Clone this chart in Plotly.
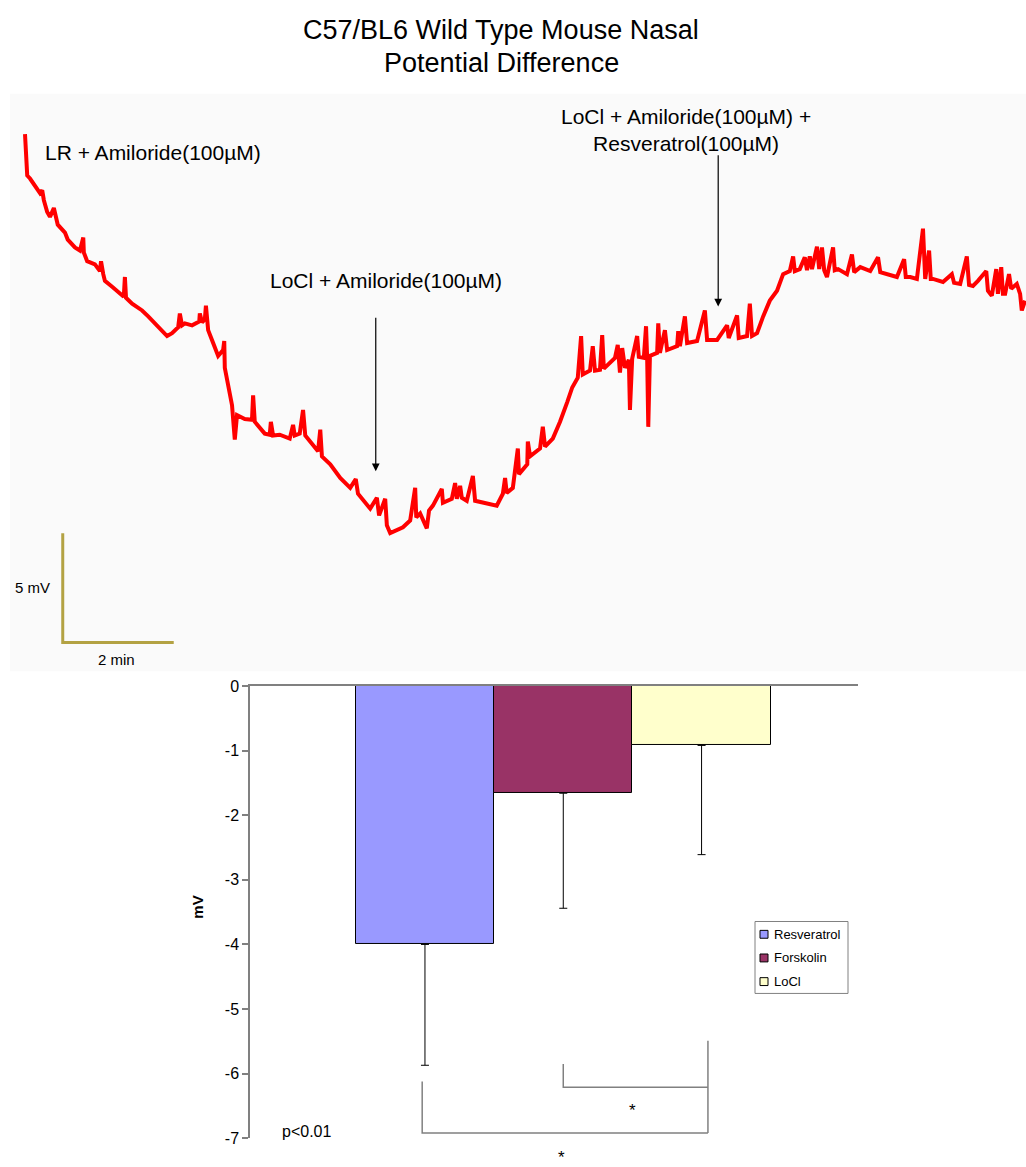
import plotly.graph_objects as go

# ---------------- data ----------------
title_lines = ["C57/BL6 Wild Type Mouse Nasal", "Potential Difference"]

# nasal potential difference trace (time in minutes, potential in mV, arbitrary offset)
time_min = [
    0.00, 0.04, 0.09, 0.18, 0.27, 0.31, 0.34, 0.40, 0.45, 0.52, 0.56, 0.59, 0.72, 0.77, 0.90, 0.99, 1.05, 1.06, 1.12, 1.26,
    1.35, 1.37, 1.41, 1.44, 1.57, 1.68, 1.78, 1.80, 1.82, 1.93, 2.11, 2.22, 2.40, 2.56, 2.65, 2.76, 2.79, 2.83, 2.88, 3.01,
    3.14, 3.15, 3.19, 3.24, 3.26, 3.30, 3.39, 3.48, 3.57, 3.59, 3.60, 3.66, 3.73, 3.78, 3.82, 3.96, 4.09, 4.11, 4.14, 4.32,
    4.41, 4.43, 4.47, 4.59, 4.77, 4.83, 4.86, 4.95, 5.01, 5.05, 5.14, 5.28, 5.32, 5.35, 5.50, 5.68, 5.86, 5.96, 6.00, 6.13,
    6.22, 6.34, 6.38, 6.49, 6.52, 6.58, 6.70, 6.81, 6.94, 7.03, 7.05, 7.12, 7.24, 7.28, 7.35, 7.51, 7.53, 7.69, 7.75, 7.78,
    7.84, 7.87, 7.96, 8.07, 8.11, 8.32, 8.50, 8.61, 8.65, 8.68, 8.79, 8.88, 8.90, 9.05, 9.06, 9.10,
    9.28, 9.33, 9.37, 9.51, 9.64, 9.77, 9.86, 9.96, 10.02, 10.05, 10.18, 10.23, 10.27, 10.36, 10.40, 10.43, 10.54, 10.63,
    10.68, 10.72, 10.76, 10.81, 10.88, 10.90, 10.94, 11.03, 11.06, 11.15, 11.19, 11.21, 11.23, 11.26, 11.39, 11.41, 11.44,
    11.53, 11.57, 11.75, 11.77, 11.80, 11.89, 11.93, 12.11, 12.25, 12.29, 12.47, 12.65, 12.68, 12.83, 12.86, 13.01, 13.06,
    13.10, 13.19, 13.30, 13.42, 13.55,
    13.66, 13.78, 13.84, 13.87, 13.96, 14.05, 14.09, 14.14, 14.18, 14.27, 14.31, 14.36, 14.40, 14.45, 14.56, 14.59, 14.65,
    14.81, 14.90, 14.94, 15.05, 15.23, 15.37, 15.41, 15.53, 15.71, 15.84, 15.87, 15.95, 16.07, 16.18, 16.22, 16.29, 16.32,
    16.36, 16.54, 16.70, 16.74, 16.85, 16.97, 17.01, 17.08, 17.17, 17.32, 17.35, 17.42, 17.50, 17.53, 17.59, 17.62, 17.66,
    17.73, 17.77, 17.87, 17.93, 17.96, 18.02,
]
pd_mv = [
    24.55, 22.66, 22.52, 22.21, 21.85, 21.98, 21.53, 20.99, 20.77, 21.17, 20.72, 20.41, 20.05, 19.73, 19.37, 19.23, 19.82, 19.14, 18.74, 18.60,
    18.29, 18.74, 18.15, 17.84, 17.57, 17.34, 17.12, 18.02, 17.07, 16.80, 16.49, 16.22, 15.77, 15.32, 15.45, 15.72, 16.35, 15.81, 15.90, 15.81,
    15.99, 16.35, 15.95, 16.08, 16.71, 15.59, 15.00, 14.41, 14.68, 15.09, 13.87, 13.06, 12.16, 10.59, 11.71, 11.53, 11.49, 12.61, 11.40, 10.86,
    10.81, 11.40, 10.77, 10.81, 10.63, 11.26, 10.77, 10.86, 11.94, 10.77, 10.50, 10.05, 11.04, 9.82, 9.46, 8.83, 8.38, 8.78, 8.11, 7.70,
    7.43, 7.93, 7.12, 7.88, 6.67, 6.31, 6.44, 6.58, 6.89, 8.38, 7.03, 7.21, 6.53, 7.34, 7.57, 8.33, 7.70, 7.88, 8.60, 7.88,
    8.47, 7.93, 7.79, 8.92, 7.79, 7.66, 7.57, 8.11, 8.83, 8.15, 8.38, 10.18, 9.01, 9.46, 10.50, 9.82,
    10.18, 11.17, 10.27, 10.63, 11.40, 12.30, 12.97, 13.42, 15.32, 13.56, 13.74, 14.86, 13.74, 13.78, 15.36, 13.83, 14.10, 14.32,
    14.91, 13.65, 14.77, 13.87, 14.23, 11.94, 14.28, 15.32, 14.37, 14.32, 15.77, 14.32, 11.17, 14.41, 14.55, 15.90, 14.55,
    15.59, 14.68, 14.86, 15.54, 14.86, 16.22, 15.00, 15.09, 16.49, 15.14, 15.14, 15.81, 15.23, 16.26, 15.23, 15.32, 16.80,
    15.32, 15.45, 16.22, 16.94, 17.39,
    18.15, 18.29, 18.96, 18.29, 18.38, 18.92, 18.33, 18.96, 18.38, 19.41, 18.38, 19.37, 18.33, 18.02, 19.37, 18.33, 18.38,
    18.15, 19.05, 18.24, 18.47, 18.29, 18.92, 18.24, 18.15, 18.02, 18.83, 18.02, 18.02, 17.93, 20.23, 17.93, 19.23, 17.93,
    17.93, 17.79, 18.15, 17.75, 17.70, 18.96, 17.66, 17.61, 17.84, 18.29, 17.39, 17.16, 18.38, 17.25, 18.47, 17.25, 17.25,
    18.15, 17.48, 17.70, 17.25, 16.49, 16.94,
]
assert len(time_min) == len(pd_mv)

# perfusion events: label, time of arrow (min)
event_labels = ["LR + Amiloride(100µM)", "LoCl + Amiloride(100µM)",
                "LoCl + Amiloride(100µM) +<br>Resveratrol(100µM)"]
event_times = [None, 6.32, 12.49]

# scale bar
scale_min = 2
scale_mv = 5
scale_labels = ["5 mV", "2 min"]

# summary bar chart
series = ["Resveratrol", "Forskolin", "LoCl"]
means = [-4.00, -1.66, -0.92]
sem = [1.87, 1.78, 1.69]
colors = ["#9999ff", "#993366", "#ffffcc"]
ytick_vals = [0, -1, -2, -3, -4, -5, -6, -7]
ytick_text = ["0", "-1", "-2", "-3", "-4", "-5", "-6", "-7"]
y_title = "mV"
p_text = "p<0.01"

# ---------------- layout helpers ----------------
W, H = 1026, 1167
FONT = "Liberation Sans, Arial, sans-serif"


def px(x):
    return x / W


def py(y):
    return 1 - y / H


PX_PER_MIN = 55.5
PX_PER_MV = 22.2

fig = go.Figure()

# trace
fig.add_trace(go.Scatter(
    x=time_min, y=pd_mv, mode="lines",
    line=dict(color="#ff0000", width=4),
    xaxis="x", yaxis="y", showlegend=False, hoverinfo="skip"))

# scale bar (anchored at a chosen spot)
sb_t0, sb_v0 = 0.68, 1.31
fig.add_trace(go.Scatter(
    x=[sb_t0, sb_t0, sb_t0 + scale_min],
    y=[sb_v0 + scale_mv, sb_v0, sb_v0],
    mode="lines", line=dict(color="#b3a243", width=3),
    xaxis="x", yaxis="y", showlegend=False, hoverinfo="skip"))

# bars
for i, (name, m, e, c) in enumerate(zip(series, means, sem, colors)):
    fig.add_trace(go.Bar(
        x=[i], y=[m], width=[1], name=name,
        marker=dict(color=c, line=dict(color="black", width=1)),
        error_y=dict(type="data", symmetric=False, array=[0], arrayminus=[e],
                     color="black", thickness=1, width=4),
        xaxis="x2", yaxis="y2", showlegend=False))

annotations = []
# title
for txt, yy in zip(title_lines, [22, 56]):
    annotations.append(dict(text=txt, x=px(501), y=py(yy), xref="paper", yref="paper",
                            showarrow=False, xanchor="center", yanchor="middle",
                            font=dict(size=27, color="black", family=FONT)))

# event labels
annotations.append(dict(text=event_labels[0], x=px(43), y=py(147), xref="paper", yref="paper",
                        showarrow=False, xanchor="left", yanchor="middle",
                        font=dict(size=21, color="black", family=FONT)))
annotations.append(dict(text=event_labels[1], x=px(386), y=py(277), xref="paper", yref="paper",
                        showarrow=False, xanchor="center", yanchor="middle",
                        font=dict(size=21, color="black", family=FONT)))
annotations.append(dict(text=event_labels[2], x=px(686), y=py(124), xref="paper", yref="paper",
                        showarrow=False, xanchor="center", yanchor="middle",
                        font=dict(size=21, color="black", family=FONT)))

# arrows
arrow_spec = [(event_times[1], 9.14, 16.22), (event_times[2], 16.67, 23.65)]
for t, tip, tail in arrow_spec:
    annotations.append(dict(text="", x=t, y=tip, ax=t, ay=tail, xref="x", yref="y",
                            axref="x", ayref="y", showarrow=True, arrowhead=2,
                            arrowsize=1.3, arrowwidth=1.2, arrowcolor="black"))

# scale bar labels
annotations.append(dict(text=scale_labels[0], x=px(52), y=py(588), xref="paper", yref="paper",
                        showarrow=False, xanchor="right", yanchor="middle",
                        font=dict(size=15, color="black", family=FONT)))
annotations.append(dict(text=scale_labels[1], x=px(116), y=py(661), xref="paper", yref="paper",
                        showarrow=False, xanchor="center", yanchor="middle",
                        font=dict(size=15, color="black", family=FONT)))

# bar chart texts
annotations.append(dict(text="<b>" + y_title + "</b>", x=px(198), y=py(913), xref="paper", yref="paper",
                        showarrow=False, textangle=-90, xanchor="center", yanchor="middle",
                        font=dict(size=15, color="black", family=FONT)))
annotations.append(dict(text=p_text, x=px(306), y=py(1140), xref="paper", yref="paper",
                        showarrow=False, xanchor="center", yanchor="middle",
                        font=dict(size=16, color="black", family=FONT)))
annotations.append(dict(text="*", x=1.50, y=-6.57, xref="x2", yref="y2",
                        showarrow=False, xanchor="center", yanchor="middle",
                        font=dict(size=17, color="black", family=FONT)))
annotations.append(dict(text="*", x=px(561), y=py(1166), xref="paper", yref="paper",
                        showarrow=False, xanchor="center", yanchor="middle",
                        font=dict(size=17, color="black", family=FONT)))

shapes = []
# gray background of the recording panel
shapes.append(dict(type="rect", xref="paper", yref="paper", x0=px(10), x1=1, y0=py(673), y1=py(87),
                   fillcolor="#fafafa", line=dict(width=0), layer="below"))

# significance brackets
br = dict(color="#808080", width=1.5)
shapes.append(dict(type="path", xref="x2", yref="y2",
                   path="M 1.0,-5.85 L 1.0,-6.21 L 2.046,-6.21", line=br))
shapes.append(dict(type="line", xref="x2", yref="y2", x0=2.046, x1=2.046, y0=-5.49, y1=-6.92, line=br))
shapes.append(dict(type="path", xref="x2", yref="y2",
                   path="M -0.02,-6.12 L -0.02,-6.92 L 2.046,-6.92", line=br))

# manual legend
shapes.append(dict(type="rect", xref="paper", yref="paper", x0=px(755), x1=px(848),
                   y0=py(1000), y1=py(927), fillcolor="white", line=dict(color="#808080", width=1)))
for k, (name, c) in enumerate(zip(series, colors)):
    yc = 940 + 24 * k
    shapes.append(dict(type="rect", xref="paper", yref="paper", x0=px(760), x1=px(768),
                       y0=py(yc + 4), y1=py(yc - 4), fillcolor=c, line=dict(color="black", width=1)))
    annotations.append(dict(text=name, x=px(772), y=py(yc), xref="paper", yref="paper",
                            showarrow=False, xanchor="left", yanchor="middle",
                            font=dict(size=13, color="black", family=FONT)))

fig.update_layout(
    width=W, height=H,
    margin=dict(l=0, r=0, t=0, b=0),
    paper_bgcolor="white", plot_bgcolor="rgba(0,0,0,0)",
    font=dict(family=FONT, color="black"),
    showlegend=False,
    xaxis=dict(domain=[px(10), 1], range=[-15 / PX_PER_MIN, 1001 / PX_PER_MIN], visible=False,
               anchor="y"),
    yaxis=dict(domain=[py(673), py(87)], range=[0, 586 / PX_PER_MV], visible=False, anchor="x"),
    xaxis2=dict(domain=[px(250), px(858)], range=[-1.265, 3.131], anchor="y2", side="top",
                showline=True, linecolor="#808080", linewidth=1.5, showticklabels=False,
                ticks="", showgrid=False, zeroline=False),
    yaxis2=dict(domain=[py(1147), py(688)], range=[-7, 0], anchor="x2",
                showline=True, linecolor="#808080", linewidth=1.5, ticks="outside",
                ticklen=6, tickcolor="#808080", tickwidth=1.5,
                tickvals=ytick_vals, ticktext=ytick_text,
                tickfont=dict(size=16, color="black", family=FONT),
                showgrid=False, zeroline=False),
    annotations=annotations,
    shapes=shapes,
    bargap=0,
)

fig.write_html("out.html")
